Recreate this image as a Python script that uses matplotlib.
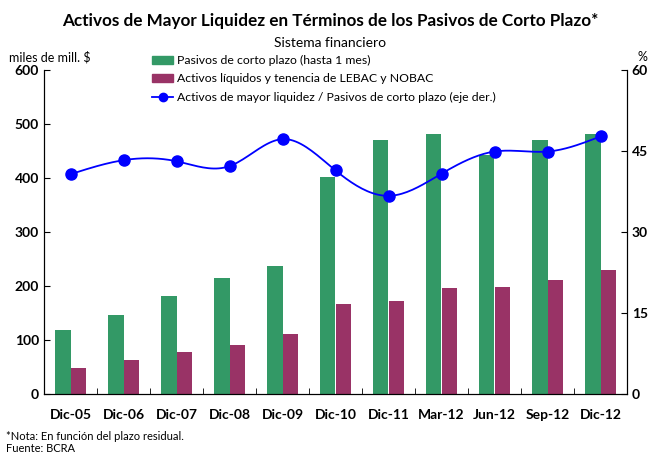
import numpy as np
import matplotlib.pyplot as plt
from matplotlib.patches import Patch
from matplotlib.lines import Line2D

plt.rcParams['font.family'] = ['Lato', 'DejaVu Sans']

categorias = ['Dic-05', 'Dic-06', 'Dic-07', 'Dic-08', 'Dic-09', 'Dic-10',
              'Dic-11', 'Mar-12', 'Jun-12', 'Sep-12', 'Dic-12']
pasivos = [119, 146, 181, 215, 237, 402, 470, 481, 442, 470, 481]
activos = [49, 63, 78, 91, 111, 167, 172, 196, 198, 211, 230]
ratio = [40.7, 43.3, 43.1, 42.2, 47.2, 41.4, 36.7, 40.8, 44.9, 44.9, 47.7]


def spline(x, y, n=20):
    # natural cubic spline, just for drawing a smooth line
    x = np.asarray(x, float)
    y = np.asarray(y, float)
    k = len(x)
    h = np.diff(x)
    A = np.zeros((k, k))
    b = np.zeros(k)
    A[0, 0] = A[-1, -1] = 1
    for i in range(1, k - 1):
        A[i, i - 1] = h[i - 1]
        A[i, i] = 2 * (h[i - 1] + h[i])
        A[i, i + 1] = h[i]
        b[i] = 6 * ((y[i + 1] - y[i]) / h[i] - (y[i] - y[i - 1]) / h[i - 1])
    M = np.linalg.solve(A, b)
    xs, ys = [], []
    for i in range(k - 1):
        t = np.linspace(x[i], x[i + 1], n, endpoint=False)
        a = x[i + 1] - t
        c = t - x[i]
        s = (M[i] * a ** 3 + M[i + 1] * c ** 3) / (6 * h[i]) \
            + (y[i] / h[i] - M[i] * h[i] / 6) * a \
            + (y[i + 1] / h[i] - M[i + 1] * h[i] / 6) * c
        xs.extend(t)
        ys.extend(s)
    xs.append(x[-1])
    ys.append(y[-1])
    return np.array(xs), np.array(ys)


fig = plt.figure(figsize=(6.5, 4.54), dpi=100)
ax = fig.add_axes([44 / 650, 1 - 394 / 454, 583 / 650, 324 / 454])
x = np.arange(len(categorias))
verde = '#339966'
morado = '#993366'
azul = '#0000ff'

ax.bar(x - 0.15, pasivos, 0.3, color=verde, zorder=2)
ax.bar(x + 0.15, activos, 0.3, color=morado, zorder=2)
ax.set_xlim(-0.5, len(categorias) - 0.5)
ax.set_ylim(0, 600)
ax.set_yticks(range(0, 601, 100))
ax.set_xticks(x)
ax.set_xticklabels(categorias, fontweight='bold', fontsize=10)
ax.set_xticks(np.arange(0.5, len(categorias) - 0.5, 1), minor=True)
ax.tick_params(axis='x', which='major', length=0, pad=11)
ax.tick_params(axis='x', which='minor', direction='in', length=4)
ax.tick_params(axis='y', direction='in', length=4, labelsize=10)
for lab in ax.get_yticklabels():
    lab.set_fontweight('bold')
ax.spines['top'].set_visible(False)

ax2 = ax.twinx()
ax2.set_ylim(0, 60)
ax2.set_yticks(range(0, 61, 15))
ax2.tick_params(axis='y', direction='in', length=4, labelsize=10)
for lab in ax2.get_yticklabels():
    lab.set_fontweight('bold')
ax2.spines['top'].set_visible(False)
sx, sy = spline(x, ratio)
ax2.plot(sx, sy, color=azul, lw=1.3, zorder=3)
ax2.plot(x, ratio, 'o', color=azul, ms=8, zorder=4)

fig.text(330 / 650, 1 - 21 / 454, 'Activos de Mayor Liquidez en Términos de los Pasivos de Corto Plazo*',
         ha='center', va='center', fontsize=12.3, fontweight='bold')
fig.text(330 / 650, 1 - 43 / 454, 'Sistema financiero', ha='center', va='center', fontsize=10)
fig.text(9 / 650, 1 - 57 / 454, 'miles de mill. $', ha='left', va='center', fontsize=9)
fig.text(642 / 650, 1 - 57 / 454, '%', ha='center', va='center', fontsize=9)
fig.text(6 / 650, 1 - 436 / 454, '*Nota: En función del plazo residual.', ha='left', va='center', fontsize=8)
fig.text(6 / 650, 1 - 449 / 454, 'Fuente: BCRA', ha='left', va='center', fontsize=8)

handles = [Patch(color=verde), Patch(color=morado),
           Line2D([], [], color=azul, marker='o', ms=6, lw=1.3)]
labels = ['Pasivos de corto plazo (hasta 1 mes)',
          'Activos líquidos y tenencia de LEBAC y NOBAC',
          'Activos de mayor liquidez / Pasivos de corto plazo (eje der.)']
fig.legend(handles, labels, loc='upper left', bbox_to_anchor=(152 / 650, 1 - 55 / 454),
           frameon=False, fontsize=8.8, handlelength=1.75, handleheight=0.65,
           handletextpad=0.3, labelspacing=0.6, borderaxespad=0, borderpad=0)

fig.savefig('out.png', dpi=100)
